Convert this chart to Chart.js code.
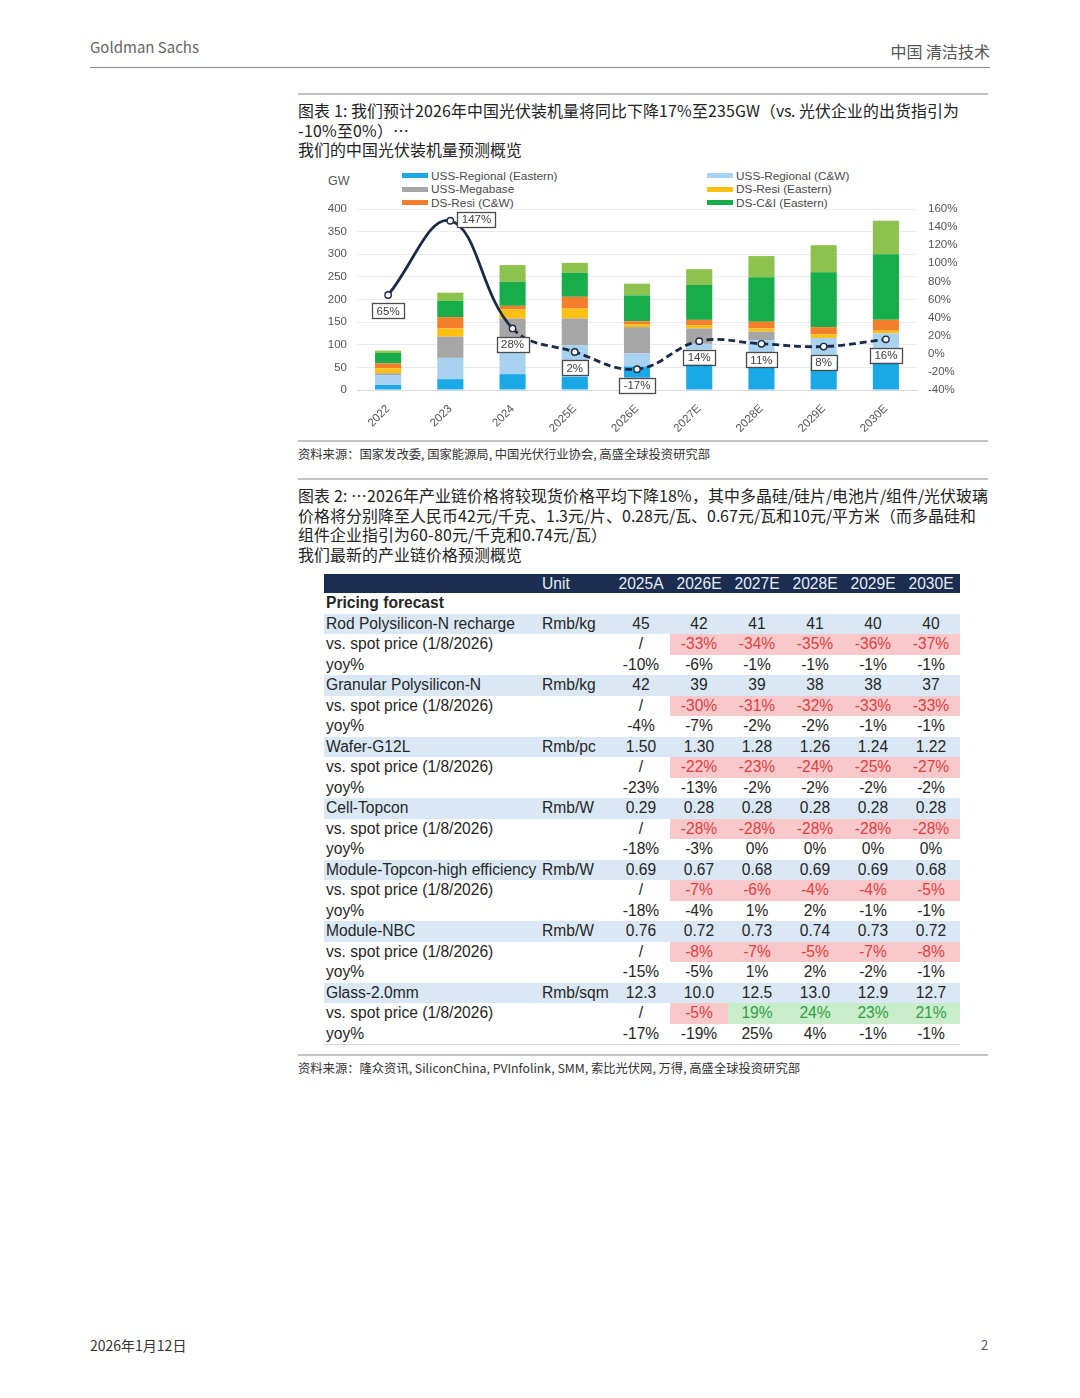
<!DOCTYPE html>
<html>
<head>
<meta charset="utf-8">
<script src="https://cdn.jsdelivr.net/npm/chart.js@4/dist/chart.umd.min.js"></script>
<style>
  @font-face {
    font-family: 'TightCJK';
    src: local('Noto Sans CJK SC'), local('Noto Sans CJK SC Regular'), local('NotoSansCJKsc-Regular'), local('NotoSansCJKSC-Regular');
    ascent-override: 92%; descent-override: 24%; line-gap-override: 0%;
  }
  html, body { margin: 0; padding: 0; background: #fff; }
  body { width: 1080px; height: 1398px; position: relative; font-family: "Noto Sans CJK SC", "Noto Sans", sans-serif; color: #222; overflow: hidden; }
  .abs { position: absolute; white-space: nowrap; }
  .rule { position: absolute; height: 0; }
  #hdrL { left: 90px; top: 36px; font-size: 15px; color: #666; line-height: 22px; }
  #hdrR { right: 90px; top: 40px; font-size: 16px; color: #555; line-height: 22px; }
  .title { left: 298px; font-family: 'TightCJK', "Noto Sans CJK SC", sans-serif; font-size: 15.9px; line-height: 19.5px; color: #222; }
  .src { left: 298px; font-size: 12.3px; line-height: 16px; color: #333; }
  #chartBox { position: absolute; left: 300px; top: 165px; width: 690px; height: 270px; }
  #gw { left: 328px; top: 174px; font: 12.5px "Liberation Sans", Arial, sans-serif; color: #555; }
  #legend { position: absolute; left: 402px; top: 169px; display: grid; grid-template-columns: 305px auto; grid-auto-rows: 13.6px;
            font: 11.8px "Liberation Sans", Arial, sans-serif; color: #4a4a4a; }
  #legend .it { display: flex; align-items: center; }
  #legend .sw { width: 26px; height: 5px; margin-right: 3px; }
  table { position: absolute; left: 324px; top: 574px; width: 636px; border-collapse: collapse; table-layout: fixed;
          font: 15.6px "Liberation Sans", Arial, sans-serif; color: #262626; }
  td { padding: 0; height: 20.5px; line-height: 20.5px; white-space: nowrap; overflow: visible; }
  td.num { text-align: center; }
  td.lab { padding-left: 2px; }
  td.unit { padding-left: 2px; }
  tr.head td { background: #1b2d50; color: #e6edf7; height: 19px; line-height: 19px; }
  tr.prod td { background: #dae8f6; }
  td.neg { background: #f8c8ca; color: #e0403f; }
  td.pos { background: #c9edca; color: #2f9e44; }
  tr.last td { border-bottom: 1px solid #d6d6d6; }
</style>
</head>
<body>
<div id="hdrL" class="abs">Goldman Sachs</div>
<div id="hdrR" class="abs">中国 清洁技术</div>
<div class="rule" style="left:90px; top:67px; width:900px; border-top:1.5px solid #8a8a8a;"></div>

<div class="rule" style="left:298px; top:93px; width:690px; border-top:2px solid #c4c4c4;"></div>
<div class="abs title" style="top:102px;">图表 1: 我们预计2026年中国光伏装机量将同比下降17%至235GW（vs. 光伏企业的出货指引为<br>-10%至0%）…<br>我们的中国光伏装机量预测概览</div>

<div id="gw" class="abs">GW</div>
<div id="legend"></div>
<div id="chartBox"><canvas id="c"></canvas></div>

<div class="rule" style="left:298px; top:440px; width:690px; border-top:2px solid #c4c4c4;"></div>
<div class="abs src" style="top:446px;">资料来源：国家发改委, 国家能源局, 中国光伏行业协会, 高盛全球投资研究部</div>

<div class="rule" style="left:298px; top:478px; width:690px; border-top:2px solid #c4c4c4;"></div>
<div class="abs title" style="top:487px;">图表 2: …2026年产业链价格将较现货价格平均下降18%，其中多晶硅/硅片/电池片/组件/光伏玻璃<br>价格将分别降至人民币42元/千克、1.3元/片、0.28元/瓦、0.67元/瓦和10元/平方米（而多晶硅和<br>组件企业指引为60-80元/千克和0.74元/瓦）<br>我们最新的产业链价格预测概览</div>

<table id="tbl">
  <colgroup><col style="width:216px"><col style="width:72px"><col style="width:58px"><col style="width:58px"><col style="width:58px"><col style="width:58px"><col style="width:58px"><col style="width:58px"></colgroup>
  <tbody id="tb"></tbody>
</table>

<div class="rule" style="left:298px; top:1054px; width:690px; border-top:2px solid #c4c4c4;"></div>
<div class="abs src" style="top:1060px;">资料来源：隆众资讯, SiliconChina, PVInfolink, SMM, 索比光伏网, 万得, 高盛全球投资研究部</div>

<div class="abs" style="left:90px; top:1335px; font-size:14px; line-height:20px; color:#333;">2026年1月12日</div>
<div class="abs" style="left:981px; top:1335px; font-size:13px; line-height:20px; color:#555;">2</div>

<script>
// chart 1 data (GW)
const years = ['2022', '2023', '2024', '2025E', '2026E', '2027E', '2028E', '2029E', '2030E'];
const ussRegEast  = [11, 24, 35, 29, 52, 62, 65, 65, 70];
const ussRegCW    = [22, 47, 61, 70, 29, 40, 45, 50, 55];
const ussMega     = [4, 47, 62, 59, 58, 34, 19, 0, 0];
const dsResiEast  = [11, 18, 20, 22, 6, 7, 7, 8, 6];
const dsResiCW    = [11, 25, 8, 26, 7, 12, 15, 16, 24];
const dsCIEast    = [23, 36, 53, 53, 57, 77, 98, 121, 145];
const dsCICW      = [5, 18, 37, 22, 26, 35, 47, 60, 74];
const yoyGrowth   = [65, 147, 28, 2, -17, 14, 11, 8, 16];   // %
const leftTicks   = [0, 50, 100, 150, 200, 250, 300, 350, 400];
const rightTicks  = [-40, -20, 0, 20, 40, 60, 80, 100, 120, 140, 160];

// chart 2 (table) data
const tblYears   = ['2025A', '2026E', '2027E', '2028E', '2029E', '2030E'];
const products   = ['Rod Polysilicon-N recharge', 'Granular Polysilicon-N', 'Wafer-G12L', 'Cell-Topcon', 'Module-Topcon-high efficiency', 'Module-NBC', 'Glass-2.0mm'];
const units      = ['Rmb/kg', 'Rmb/kg', 'Rmb/pc', 'Rmb/W', 'Rmb/W', 'Rmb/W', 'Rmb/sqm'];
const prices = [
  ['45', '42', '41', '41', '40', '40'],
  ['42', '39', '39', '38', '38', '37'],
  ['1.50', '1.30', '1.28', '1.26', '1.24', '1.22'],
  ['0.29', '0.28', '0.28', '0.28', '0.28', '0.28'],
  ['0.69', '0.67', '0.68', '0.69', '0.69', '0.68'],
  ['0.76', '0.72', '0.73', '0.74', '0.73', '0.72'],
  ['12.3', '10.0', '12.5', '13.0', '12.9', '12.7']
];
const vsSpot = [   // 2026E..2030E, %
  [-33, -34, -35, -36, -37],
  [-30, -31, -32, -33, -33],
  [-22, -23, -24, -25, -27],
  [-28, -28, -28, -28, -28],
  [-7, -6, -4, -4, -5],
  [-8, -7, -5, -7, -8],
  [-5, 19, 24, 23, 21]
];
const yoyPrice = [ // 2025A..2030E, %
  [-10, -6, -1, -1, -1, -1],
  [-4, -7, -2, -2, -1, -1],
  [-23, -13, -2, -2, -2, -2],
  [-18, -3, 0, 0, 0, 0],
  [-18, -4, 1, 2, -1, -1],
  [-15, -5, 1, 2, -2, -1],
  [-17, -19, 25, 4, -1, -1]
];

const seriesNames = ['USS-Regional (Eastern)', 'USS-Regional (C&W)', 'USS-Megabase', 'DS-Resi (Eastern)', 'DS-Resi (C&W)', 'DS-C&I (Eastern)', 'DS-C&I (C&W)'];
const seriesData = [ussRegEast, ussRegCW, ussMega, dsResiEast, dsResiCW, dsCIEast, dsCICW];
const palette = ['#1ba8e6', '#a8d2f0', '#a6a6a6', '#fdc010', '#f37e2b', '#17ad4a', '#8ec24e'];
const legendCount = 6;

// legend (two columns, row-major like the source)
const lg = document.getElementById('legend');
for (let i = 0; i < legendCount; i++) {
  const d = document.createElement('div');
  d.className = 'it';
  d.innerHTML = `<span class="sw" style="background:${palette[i]}"></span><span></span>`;
  d.lastChild.textContent = seriesNames[i];
  lg.appendChild(d);
}

// table
const tb = document.getElementById('tb');
function row(cls, cells){
  const tr = document.createElement('tr');
  if (cls) tr.className = cls;
  cells.forEach(c => {
    const td = document.createElement('td');
    td.className = c.cls || '';
    td.textContent = c.t;
    if (c.bold) td.style.fontWeight = 'bold';
    tr.appendChild(td);
  });
  tb.appendChild(tr);
}
row('head', [{t: ''}, {t: 'Unit', cls: 'unit'}].concat(tblYears.map(y => ({t: y, cls: 'num'}))));
row('', [{t: 'Pricing forecast', cls: 'lab', bold: true}, {t: ''}].concat(tblYears.map(() => ({t: ''}))));
products.forEach((p, i) => {
  row('prod', [{t: p, cls: 'lab'}, {t: units[i], cls: 'unit'}].concat(prices[i].map(v => ({t: v, cls: 'num'}))));
  row('', [{t: 'vs. spot price (1/8/2026)', cls: 'lab'}, {t: ''}, {t: '/', cls: 'num'}]
    .concat(vsSpot[i].map(v => ({t: v + '%', cls: 'num ' + (v < 0 ? 'neg' : 'pos')}))));
  row(i === products.length - 1 ? 'last' : '', [{t: 'yoy%', cls: 'lab'}, {t: ''}].concat(yoyPrice[i].map(v => ({t: v + '%', cls: 'num'}))));
});

// boxed % labels on the growth line
const boxLabels = {
  id: 'boxLabels',
  afterDatasetsDraw(chart){
    const meta = chart.getDatasetMeta(seriesData.length);
    const ctx = chart.ctx;
    ctx.save();
    ctx.font = '11.5px "Liberation Sans", Arial, sans-serif';
    ctx.textBaseline = 'middle';
    ctx.textAlign = 'center';
    meta.data.forEach((pt, i) => {
      const txt = yoyGrowth[i] + '%';
      const w = ctx.measureText(txt).width + 9;
      const h = 15;
      let cx = pt.x, cy = pt.y + 16;
      if (i === 1) { cx = pt.x + 7 + w / 2; cy = pt.y - 1; }
      ctx.fillStyle = '#fff';
      ctx.fillRect(cx - w / 2, cy - h / 2, w, h);
      ctx.strokeStyle = '#4a4a4a';
      ctx.lineWidth = 1.3;
      ctx.strokeRect(Math.round(cx - w / 2) + 0.5, Math.round(cy - h / 2) + 0.5, Math.round(w), h);
      ctx.fillStyle = '#404040';
      ctx.fillText(txt, cx, cy + 0.5);
    });
    ctx.restore();
  }
};

const datasets = seriesData.map((d, i) => ({
  type: 'bar',
  label: seriesNames[i],
  data: d,
  backgroundColor: palette[i],
  stack: 'gw',
  yAxisID: 'y',
  order: 2,
  barPercentage: 0.42,
  categoryPercentage: 1
}));
datasets.push({
  type: 'line',
  label: 'yoy',
  data: yoyGrowth,
  yAxisID: 'y1',
  order: 0,
  borderColor: '#1b2a47',
  borderWidth: 2.8,
  tension: 0.4,
  pointRadius: 3.2,
  pointBackgroundColor: '#fff',
  pointBorderColor: '#1b2a47',
  pointBorderWidth: 1.4,
  segment: { borderDash: c => c.p0DataIndex >= 2 ? [7, 4] : undefined }
});

const font = { family: '"Liberation Sans", Arial, sans-serif', size: 11.5 };
new Chart(document.getElementById('c'), {
  data: { labels: years, datasets },
  plugins: [boxLabels],
  options: {
    responsive: true,
    maintainAspectRatio: false,
    animation: false,
    layout: { padding: { top: 44, left: 0, right: 0, bottom: 0 } },
    plugins: { legend: { display: false }, tooltip: { enabled: false } },
    scales: {
      x: {
        stacked: true,
        grid: { display: false },
        border: { color: '#d9d9d9' },
        ticks: { color: '#555', font, minRotation: 45, maxRotation: 45, padding: 4 },
        afterFit: s => { s.height = 45; }
      },
      y: {
        stacked: true,
        min: leftTicks[0], max: leftTicks[leftTicks.length - 1],
        afterBuildTicks: s => { s.ticks = leftTicks.map(v => ({ value: v })); },
        grid: { color: '#ebebeb', drawTicks: false },
        border: { display: false },
        ticks: { color: '#555', font, padding: 10 },
        afterFit: s => { s.width = 57; }
      },
      y1: {
        position: 'right',
        min: rightTicks[0], max: rightTicks[rightTicks.length - 1],
        afterBuildTicks: s => { s.ticks = rightTicks.map(v => ({ value: v })); },
        grid: { display: false, drawTicks: false },
        border: { display: false },
        ticks: { color: '#555', font, padding: 11, callback: v => v + '%' },
        afterFit: s => { s.width = 73; }
      }
    }
  }
});
</script>
</body>
</html>
